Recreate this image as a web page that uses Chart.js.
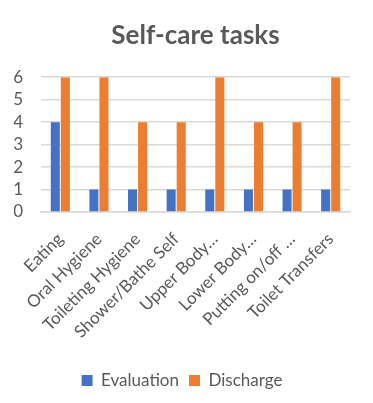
<!DOCTYPE html>
<html lang="en">
<head>
  <meta charset="UTF-8">
  <title>Self-care tasks</title>
  <script src="https://cdn.jsdelivr.net/npm/chart.js"></script>
  <style>
    body { margin: 0; background: #fff; }
    #wrap { width: 373px; height: 403px; }
  </style>
</head>
<body>
  <div id="wrap"><canvas id="grafico"></canvas></div>
  <script>
    const tarefas = ["Eating", "Oral Hygiene", "Toileting Hygiene", "Shower/Bathe Self",
      "Upper Body…", "Lower Body…", "Putting on/off …", "Toilet Transfers"];
    const avaliacao = [4, 1, 1, 1, 1, 1, 1, 1];
    const alta = [6, 6, 4, 4, 6, 4, 4, 6];

    const cinza = '#595959';
    const fonte = 'Lato, "Open Sans", sans-serif';

    const ctx = document.getElementById("grafico").getContext("2d");
    new Chart(ctx, {
      type: 'bar',
      data: {
        labels: tarefas,
        datasets: [
          { label: 'Evaluation', data: avaliacao, backgroundColor: '#4472c4', categoryPercentage: 0.52, barPercentage: 0.9 },
          { label: 'Discharge', data: alta, backgroundColor: '#ed7d31', categoryPercentage: 0.52, barPercentage: 0.9 }
        ]
      },
      options: {
        responsive: true,
        maintainAspectRatio: false,
        animation: false,
        layout: { padding: { top: 20, left: 14, right: 23, bottom: 4 } },
        plugins: {
          title: {
            display: true,
            fullSize: false,
            text: 'Self-care tasks',
            color: cinza,
            font: { family: fonte, size: 26, weight: 'bold' },
            padding: { top: 0, bottom: 26 }
          },
          legend: {
            position: 'bottom',
            labels: {
              color: cinza,
              font: { family: fonte, size: 17 },
              boxWidth: 11,
              boxHeight: 11,
              padding: 10
            }
          },
          tooltip: { enabled: false }
        },
        scales: {
          x: {
            grid: { display: false },
            border: { color: '#d9d9d9', width: 1.5 },
            ticks: { color: cinza, font: { family: fonte, size: 17 }, maxRotation: 45, minRotation: 45, autoSkip: false, padding: 9 },
            afterFit: (scale) => {
              scale.height = 150;
              scale.paddingLeft = 0;
              scale.paddingRight = 0;
            }
          },
          y: {
            min: 0,
            max: 6,
            border: { display: false },
            grid: { color: '#d9d9d9', lineWidth: 1.5, drawTicks: false },
            ticks: { stepSize: 1, autoSkip: false, color: cinza, font: { family: fonte, size: 17 }, padding: 18 },
            afterFit: (scale) => { scale.width = 27; }
          }
        }
      }
    });
  </script>
</body>
</html>
